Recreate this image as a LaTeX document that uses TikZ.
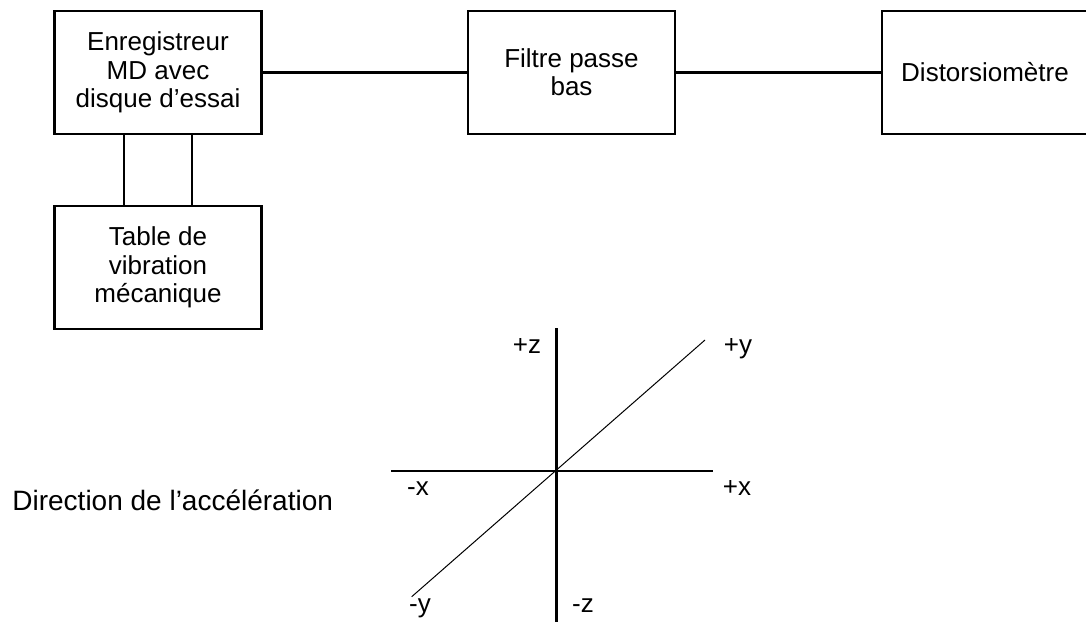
\documentclass[tikz,border=0pt]{standalone}
\usepackage{fontspec}
\setmainfont{Liberation Sans}
\begin{document}
\begin{tikzpicture}[x=0.5pt,y=-0.5pt,
  box/.style={draw, line width=1.3pt, align=center, inner sep=0pt,
    minimum width=103.5pt, minimum height=61.5pt,
    font=\fontsize{13}{14.2}\selectfont},
  wire/.style={line width=1.3pt},
  axisline/.style={line width=1.3pt},
  diagline/.style={line width=0.5pt},
  lbl/.style={font=\fontsize{13}{15}\selectfont, inner sep=0pt, anchor=base}]
\useasboundingbox (0,0) rectangle (1086,621);

% measuring chain
\node[box] (rec) at (158,72.5) {Enregistreur\\MD avec\\disque d’essai};
\node[box] (flt) at (571.5,72.5) {Filtre passe\\bas};
\node[box, minimum width=103pt] (dst) at (985,72.5) {Distorsiomètre};
\node[box] (tab) at (158,267.5) {Table de\\vibration\\mécanique};

\draw[wire] (rec.east) -- (flt.west);
\draw[wire] (flt.east) -- (dst.west);
\draw[wire] ([xshift=-17pt]rec.south) -- ([xshift=-17pt]tab.north);
\draw[wire] ([xshift=17pt]rec.south) -- ([xshift=17pt]tab.north);

% acceleration axes
\coordinate (ztop) at (556.7,328);
\coordinate (zbot) at (556.7,622);
\coordinate (xlft) at (391,471);
\coordinate (xrgt) at (713,471);
\coordinate (ylft) at (411.7,596.7);
\coordinate (yrgt) at (705,340);

\draw[axisline] (ztop) -- (zbot);
\draw[axisline] (xlft) -- (xrgt);
\draw[diagline] (ylft) -- (yrgt);

\node[lbl] (pz) at (527,353) {+z};
\node[lbl] (py) at (738,353) {+y};
\node[lbl] (mx) at (418,495) {-x};
\node[lbl] (px) at (737,495) {+x};
\node[lbl] (my) at (420,612) {-y};
\node[lbl] (mz) at (583,612) {-z};

\node[lbl, anchor=base west, font=\fontsize{14}{16}\selectfont] (dir) at (12,510) {Direction de l’accélération};
\end{tikzpicture}
\end{document}
